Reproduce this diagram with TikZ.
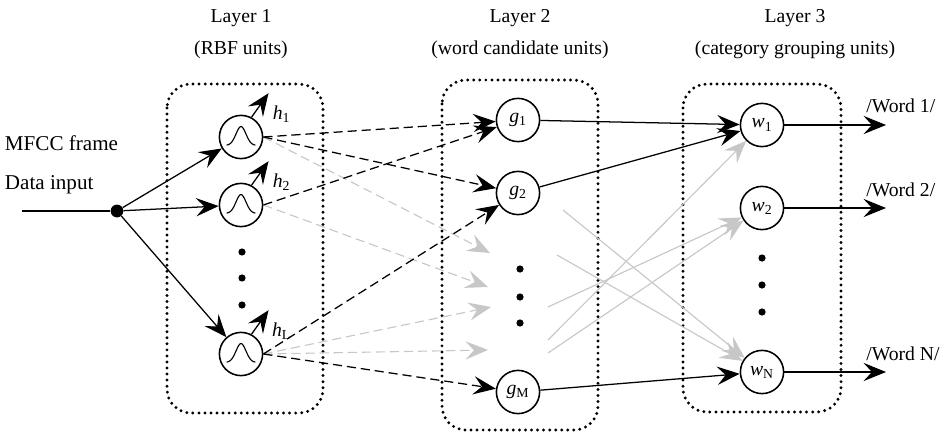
\documentclass[tikz,border=0pt]{standalone}
\usepackage{fontspec}
\setmainfont{Liberation Serif}
\usetikzlibrary{arrows.meta,positioning,calc}

\begin{document}
\begin{tikzpicture}[
  x=0.025cm, y=-0.025cm,
  every node/.style={font=\fontsize{14}{16}\selectfont},
  unit/.style={circle, draw, line width=1.1pt, minimum size=1.08cm, inner sep=0pt},
  rbf/.style={unit, path picture={
      \draw[line width=0.8pt, x=1cm, y=1cm, shift={(path picture bounding box.center)}]
        plot[domain=-0.36:0.36, samples=41, smooth] (\x, {-0.21+0.47*exp(-32*\x*\x)});}},
  vdot/.style={circle, fill, inner sep=0pt, minimum size=0.18cm},
  layer/.style={draw, line width=2.3pt, dash pattern=on 0pt off 4.3pt, line cap=round, rounded corners=0.6cm},
  arrow/.style={-{Stealth[length=16pt, width=13pt, inset=6pt]}, line width=0.9pt},
  dashedarrow/.style={arrow, dash pattern=on 6.5pt off 3.5pt},
  faint/.style={black!22, line width=0.8pt}
]
\useasboundingbox (0,0) rectangle (948,433);

% layer frames
\draw[layer] (167,84) rectangle (323,413);
\draw[layer] (442,80) rectangle (598,430);
\draw[layer] (683,84) rectangle (841,412);

% titles
\node (t1) at (241,18) {Layer 1};
\node (t1sub) at (241,50) {(RBF units)};
\node (t2) at (520,18) {Layer 2};
\node (t2sub) at (520,50) {(word candidate units)};
\node (t3) at (795,18) {Layer 3};
\node (t3sub) at (795,50) {(category grouping units)};

% input
\node[anchor=west, font=\fontsize{15}{17}\selectfont] (mfcc) at (0,143) {MFCC frame};
\node[anchor=west, font=\fontsize{15}{17}\selectfont] (datain) at (0,185) {Data input};
\coordinate (src) at (22,211);
\node[circle, fill, inner sep=0pt, minimum size=0.32cm] (split) at (117,211) {};
\draw[line width=0.9pt] (src) -- (split);

% layer 1: RBF units
\node[rbf] (h1) at (241,137) {};
\node[rbf] (h2) at (241,205) {};
\node[rbf] (hL) at (241,354) {};
\foreach \y [count=\i] in {252,278,305}
  \node[vdot] (hdot\i) at (242,\y) {};

\foreach \n/\s in {h1/1, h2/2, hL/L} {
  \draw[arrow] (split) -- (\n);
  \path (\n.62) ++(17,-24) coordinate (\n-tip);
  \draw[arrow] (\n.62) -- (\n-tip);
  \node (\n-lab) at ($(\n-tip)+(13,21)$) {\textit{h}\textsubscript{\s}};
}

% layer 2: word candidate units
\node[unit] (g1) at (518,120) {\textit{g}\textsubscript{1}};
\node[unit] (g2) at (518,193) {\textit{g}\textsubscript{2}};
\node[unit] (gM) at (518,392) {\textit{g}\textsubscript{M}};
\foreach \y [count=\i] in {269,297,323}
  \node[vdot] (gdot\i) at (520,\y) {};

% open ends of the hidden links
\coordinate (fa) at (490,253);
\coordinate (fb) at (488,287);
\coordinate (fc) at (491,307);
\coordinate (fd) at (488,350);

\foreach \a/\b in {h1/fa, h2/fb, hL/fc, hL/fd}
  \draw[dashedarrow, faint] (\a.east) -- (\b);
\foreach \a/\b in {h1/g1, h1/g2, h2/g1, hL/g2, hL/gM}
  \draw[dashedarrow] (\a.east) -- (\b);

% layer 3: category grouping units
\node[unit] (w1) at (762,125) {\textit{w}\textsubscript{1}};
\node[unit] (w2) at (762,208) {\textit{w}\textsubscript{2}};
\node[unit] (wN) at (762,372) {\textit{w}\textsubscript{N}};
\foreach \y [count=\i] in {258,285,312}
  \node[vdot] (wdot\i) at (762,\y) {};

\coordinate (r1) at (563,210);
\coordinate (r2) at (557,255);
\coordinate (r3) at (548,307);
\coordinate (r4) at (548,340);
\coordinate (r5) at (548,353);
\foreach \a/\b in {r1/wN, r2/wN, r3/w2, r4/w1, r5/w2}
  \draw[arrow, faint] (\a) -- (\b);

\draw[arrow] (g1) -- (w1);
\draw[arrow] (g2) -- (w1);
\draw[arrow] (gM) -- (wN);

% outputs
\foreach \n/\y/\s in {w1/125/1, w2/208/2, wN/372/N} {
  \coordinate (\n-out) at (886,\y);
  \draw[arrow] (\n) -- (\n-out);
  \node[anchor=base west, inner sep=0pt] (\n-lab) at (866,\y-12) {/Word \s/};
}
\end{tikzpicture}
\end{document}
